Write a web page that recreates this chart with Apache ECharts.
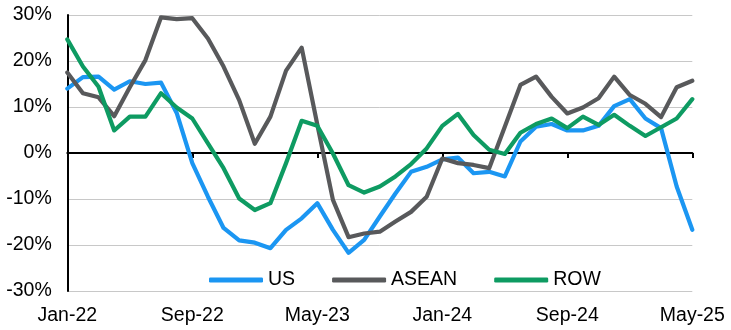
<!DOCTYPE html>
<html>
<head>
<meta charset="utf-8">
<script src="https://cdn.jsdelivr.net/npm/echarts@6/dist/echarts.min.js"></script>
<style>
  html, body { margin: 0; padding: 0; background: #fff; }
  #chart { width: 731px; height: 330px; }
</style>
</head>
<body>
<div id="chart"></div>
<script>
// Monthly year-on-year growth, Jan-22 .. May-25
const months = [
  'Jan-22','Feb-22','Mar-22','Apr-22','May-22','Jun-22','Jul-22','Aug-22','Sep-22','Oct-22','Nov-22','Dec-22',
  'Jan-23','Feb-23','Mar-23','Apr-23','May-23','Jun-23','Jul-23','Aug-23','Sep-23','Oct-23','Nov-23','Dec-23',
  'Jan-24','Feb-24','Mar-24','Apr-24','May-24','Jun-24','Jul-24','Aug-24','Sep-24','Oct-24','Nov-24','Dec-24',
  'Jan-25','Feb-25','Mar-25','Apr-25','May-25'
];

const us = [
  14.0, 16.5, 16.6, 13.8, 15.6, 15.0, 15.3, 8.7, -2.2, -9.5, -16.3, -19.0,
  -19.5, -20.7, -16.7, -14.2, -10.9, -16.7, -21.7, -18.9, -13.8, -8.8, -4.1, -3.0,
  -1.4, -1.0, -4.4, -4.1, -5.1, 2.5, 5.7, 6.3, 4.9, 4.9, 5.9, 10.2,
  11.7, 7.5, 5.4, -7.3, -16.7
];

const asean = [
  17.5, 13.0, 12.1, 8.0, 14.3, 20.2, 29.5, 29.1, 29.3, 24.9, 18.8, 11.5,
  2.0, 7.9, 17.9, 22.9, 6.2, -10.2, -18.3, -17.5, -17.1, -14.9, -12.8, -9.5,
  -1.2, -2.2, -2.6, -3.3, 5.7, 14.8, 16.6, 12.2, 8.6, 9.9, 11.9, 16.6,
  12.6, 10.7, 7.8, 14.3, 15.7
];

const row = [
  24.7, 18.8, 14.4, 4.9, 7.9, 7.9, 13.0, 9.9, 7.5, 2.1, -3.3, -9.9,
  -12.4, -10.9, -2.2, 7.0, 5.9, -0.1, -7.0, -8.6, -7.3, -5.1, -2.4, 1.0,
  5.9, 8.5, 3.9, 0.7, -0.2, 4.4, 6.3, 7.5, 5.4, 7.9, 6.1, 8.3,
  5.9, 3.7, 5.6, 7.5, 11.7
];

const yTicks = [-30, -20, -10, 0, 10, 20, 30];

const textFont = { fontFamily: 'Liberation Sans, Arial, sans-serif', fontSize: 19.5, color: '#000' };

function lineSeries(name, data, color) {
  return {
    name: name,
    type: 'line',
    data: data,
    xAxisIndex: 0,
    symbol: 'none',
    smooth: false,
    lineStyle: { color: color, width: 4.2, join: 'round', cap: 'round' },
    itemStyle: { color: color },
    emphasis: { disabled: true },
    z: 3
  };
}

const chart = echarts.init(document.getElementById('chart'), null, { renderer: 'canvas' });

chart.setOption({
  animation: false,
  backgroundColor: '#fff',
  textStyle: textFont,
  grid: { left: 67.3, right: 38.7, top: 15, bottom: 39, containLabel: false },
  legend: {
    left: 204,
    top: 265,
    icon: 'roundRect',
    itemWidth: 54,
    itemHeight: 5,
    itemGap: 37,
    textStyle: textFont,
    data: ['US', 'ASEAN', 'ROW'],
    selectedMode: false
  },
  xAxis: [
    {
      // labels along the bottom edge
      type: 'category',
      data: months,
      boundaryGap: false,
      position: 'bottom',
      axisLine: { show: false, onZero: false },
      axisTick: { show: false },
      splitLine: { show: false },
      axisLabel: Object.assign({ interval: 7, margin: 15 }, textFont)
    },
    {
      // zero line with tick marks
      type: 'category',
      data: months,
      boundaryGap: false,
      position: 'bottom',
      axisLine: { show: true, onZero: true, lineStyle: { color: '#000', width: 2 } },
      axisTick: { show: true, interval: 7, length: 5, lineStyle: { color: '#000', width: 2 } },
      axisLabel: { show: false },
      splitLine: { show: false },
      z: 2
    }
  ],
  yAxis: {
    type: 'value',
    min: yTicks[0],
    max: yTicks[yTicks.length - 1],
    interval: 10,
    axisLine: { show: true, onZero: false, lineStyle: { color: '#000', width: 2 } },
    axisTick: { show: false },
    splitLine: { show: true, lineStyle: { color: '#c8c8c8', width: 1 } },
    axisLabel: Object.assign({ margin: 15.5, formatter: v => v + '%' }, textFont)
  },
  series: [
    lineSeries('US', us, '#1b96f2'),
    lineSeries('ASEAN', asean, '#58595b'),
    lineSeries('ROW', row, '#0e9b62')
  ]
});
</script>
</body>
</html>
